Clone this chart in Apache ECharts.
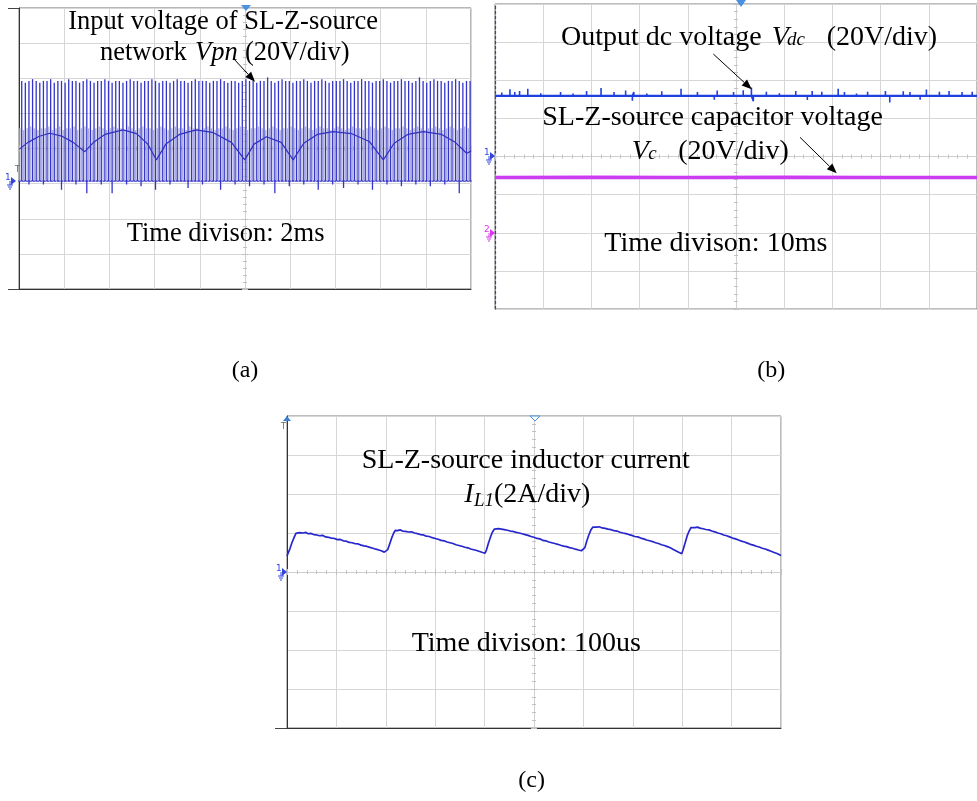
<!DOCTYPE html>
<html><head><meta charset="utf-8">
<script src="https://cdn.jsdelivr.net/npm/echarts@6/dist/echarts.min.js"></script>
<style>html,body{margin:0;padding:0;background:#fff}#c{width:977px;height:801px}</style>
</head><body><div id="c"></div>
<script>
// ================= DATA =================
// (a) Input voltage Vpn, 20 V/div, 2 ms/div (10 div = 20 ms)
const vpnTall = [57,56,57,58,57,56,57,57,58,56,
57,57,56,58,57,57,56,57,58,57,
56,57,57,58,57,56,57,57,56,57,
58,57,57,56,57,57,58,57,56,57,
57,56,57,58,57,57,56,57,58,57,
57,57,56,57,57,58,57,56,57,57,
56,57,58,57,57,56,57,57,59,57,
56,57,58,57,57,56,57,57,58,57,
56,57,57,58,57,56,57,57,57,58,
57,56,57,57,58,57,57,56,57,57,
58,57,56,57,57,58,57,57,56,57,
59,57,56,57,58,57,57,56,57,57,
58,57,56,57,57];
const vpnMid = [30,29,30,31,30,29,30,30,31,29,
30,31,29,30,30,31,29,30,31,30,
29,30,31,30,29,30,31,30,30,29,
31,30,29,30,31,30,30,29,30,31,
30,29,30,31,30,30,29,31,30,30,
29,30,31,30,29,30,30,31,30,29,
30,31,30,29,30,30,31,30,29,30,
31,30,29,30,30,31,30,29,30,31,
30,29,30,31,30,30,29,30,31,30,
29,30,31,30,30,29,30,31,30,29,
30,31,30,29,30,30,31,30,29,30,
31,30,29,30,30,31,30,29,30,31,
30,29,30,31,30];
const vpnDips = [[2,-2],[6,-2],[11,-5],[15,-2],[18,-7],[22,-2],[25,-7],[29,-2],[33,-3],[37,-5],[41,-2],[46,-4],[50,-2],[55,-5],[59,-2],[63,-3],[67,-2],[70,-7],[74,-3],[78,-2],[82,-5],[86,-2],[89,-4],[93,-2],[97,-5],[101,-2],[105,-3],[109,-2],[113,-3],[117,-2],[121,-7]];
const vpnArc = [[0,18],[0.4,22],[0.9,25.5],[1.36,27.2],[1.9,25.5],[2.4,22],[2.91,16.7],
[3.3,22],[3.8,26.5],[4.6,29.1],[5.2,27],[5.7,21],[6.08,12],
[6.5,21],[7.1,26.5],[7.85,29.1],[8.6,27.5],[9.4,22],[9.99,12],
[10.4,21],[10.95,25.2],[11.6,22],[12.13,12],
[12.6,21.5],[13.2,26.5],[13.9,28.1],[14.7,27],[15.5,22.5],[16.12,12],
[16.6,21.5],[17.2,26.5],[17.89,28.1],[18.7,26.5],[19.3,22],[19.81,15.8],[20,17]];

// (b) Output dc voltage Vdc and capacitor voltage Vc, 20 V/div, 10 ms/div
const vdcLevel = 31.8;
const vdcSpikes = [[1.4,33.6],[3.1,35.3],[4.1,33.8],[5.1,34.3],[6.8,35.6],[9.5,33.2],[13.6,33.8],[16.2,33.0],[19.0,34.3],[22.0,36.0],[24.7,33.8],[27.1,34.6],[28.5,29.2],[28.8,33.8],[31.5,33.0],[34.6,34.2],[38.6,35.6],[42.0,33.8],[45.5,29.8],[46.1,34.6],[49.5,33.8],[51.5,34.8],[53.2,36.2],[53.6,29.0],[56.3,34.0],[59.0,33.2],[62.4,34.4],[64.8,29.6],[65.8,34.4],[67.8,34.0],[71.2,35.6],[72.5,33.8],[75.0,33.0],[77.3,34.0],[81.0,34.4],[81.9,28.3],[84.7,34.2],[86.1,33.8],[88.2,29.8],[89.5,35.2],[92.2,34.0],[94.2,34.4],[96.9,33.8],[99.0,34.0]];
const vcTrace = [[0,29.0],[20,29.1],[40,29.0],[60,29.1],[80,29.0],[100,29.0]];

// (c) Inductor current IL1, 2 A/div, 100 us/div
const il1 = [[0,0.82],[2,0.9],[6,1.2],[10,1.5],[14,1.75],[18,1.98],[21,2.07],[25,2.02],[29,2.06],[33,2.0],[38,2.03],[43,1.96],[48,1.98],[54,1.92],[60,1.9],[66,1.86],[72,1.88],[78,1.8],[84,1.78],[90,1.74],[96,1.72],[102,1.66],[108,1.67],[114,1.6],[120,1.58],[126,1.52],[132,1.5],[138,1.45],[144,1.44],[150,1.38],[156,1.34],[162,1.31],[168,1.26],[174,1.22],[180,1.17],[186,1.13],[192,1.08],[197,1.02],[201,0.98],
[204,1.15],[208,1.45],[212,1.75],[216,2.0],[219,2.13],[224,2.12],[229,2.16],[234,2.1],[240,2.08],[246,2.05],[252,2.06],[258,2.0],[264,1.97],[270,1.92],[276,1.9],[282,1.84],[288,1.82],[294,1.76],[300,1.72],[306,1.68],[312,1.62],[318,1.6],[324,1.54],[330,1.5],[336,1.46],[342,1.4],[348,1.36],[354,1.32],[360,1.27],[366,1.24],[372,1.18],[378,1.14],[384,1.1],[390,1.05],[396,1.0],[401,0.96],
[404,1.15],[408,1.5],[412,1.8],[416,2.05],[420,2.2],[423,2.27],[428,2.22],[434,2.2],[440,2.17],[446,2.14],[452,2.1],[458,2.08],[464,2.03],[470,2.0],[476,1.96],[482,1.92],[488,1.88],[494,1.82],[500,1.78],[506,1.72],[512,1.7],[518,1.62],[524,1.6],[530,1.54],[536,1.5],[542,1.46],[548,1.42],[554,1.37],[560,1.33],[566,1.3],[572,1.25],[578,1.22],[584,1.17],[590,1.13],[596,1.09],[600,1.06],
[603,1.25],[607,1.6],[611,1.9],[615,2.15],[619,2.3],[622,2.35],[627,2.3],[632,2.32],[638,2.26],[644,2.24],[650,2.2],[656,2.17],[662,2.12],[668,2.1],[674,2.04],[680,2.0],[686,1.97],[692,1.92],[698,1.88],[704,1.82],[710,1.8],[716,1.74],[722,1.7],[728,1.64],[734,1.6],[740,1.56],[746,1.5],[752,1.46],[758,1.4],[764,1.36],[770,1.3],[776,1.24],[782,1.16],[788,1.08],[794,1.0],[799,0.94],
[802,1.15],[806,1.5],[810,1.85],[814,2.1],[818,2.28],[821,2.32],[826,2.28],[831,2.3],[836,2.25],[842,2.22],[848,2.18],[854,2.16],[860,2.1],[866,2.06],[872,2.0],[878,1.96],[884,1.9],[890,1.86],[896,1.8],[902,1.74],[908,1.7],[914,1.64],[920,1.58],[926,1.54],[932,1.48],[938,1.42],[944,1.38],[950,1.32],[956,1.28],[962,1.22],[968,1.18],[974,1.12],[980,1.06],[986,1.0],[992,0.95],[996,0.9],[1000,0.84]];

// ================= CHART =================
const SERIF = '"Liberation Serif","Times New Roman",serif';
const chart = echarts.init(document.getElementById('c'), null, {renderer:'canvas'});
const xAxes = [], yAxes = [], series = [];
const noAxis = {axisLabel:{show:false}, axisTick:{show:false}, splitLine:{show:false}};

function divAxes(gi) {
  const xi = xAxes.length, yi = yAxes.length;
  const tickStyle = {color:'#c2c2c2', width:1};
  const grid = {color:'#d6d6d6', width:1};
  const base = {gridIndex:gi, type:'value', axisLabel:{show:false}, silent:true};
  xAxes.push(Object.assign({}, base, {min:-5, max:5, interval:1, position:'bottom',
    splitLine:{show:true, lineStyle:grid},
    axisLine:{show:true, onZero:true, onZeroAxisIndex:yi, lineStyle:{color:'#cfcfcf'}},
    axisTick:{show:true, length:3, lineStyle:tickStyle},
    minorTick:{show:true, splitNumber:5, length:2, lineStyle:tickStyle}}));
  xAxes.push(Object.assign({}, base, {min:-5, max:5, interval:1, position:'top',
    splitLine:{show:false},
    axisLine:{show:false, onZero:true, onZeroAxisIndex:yi},
    axisTick:{show:true, length:3, lineStyle:tickStyle},
    minorTick:{show:true, splitNumber:5, length:2, lineStyle:tickStyle}}));
  yAxes.push(Object.assign({}, base, {min:-4, max:4, interval:1, position:'left',
    splitLine:{show:true, lineStyle:grid},
    axisLine:{show:true, onZero:true, onZeroAxisIndex:xi, lineStyle:{color:'#cfcfcf'}},
    axisTick:{show:true, length:3, lineStyle:tickStyle},
    minorTick:{show:true, splitNumber:5, length:2, lineStyle:tickStyle}}));
  yAxes.push(Object.assign({}, base, {min:-4, max:4, interval:1, position:'right',
    splitLine:{show:false},
    axisLine:{show:false, onZero:true, onZeroAxisIndex:xi},
    axisTick:{show:true, length:3, lineStyle:tickStyle},
    minorTick:{show:true, splitNumber:5, length:2, lineStyle:tickStyle}}));
}

// ---- panel (a) ----
divAxes(0);
const yA = yAxes.length;
yAxes.push(Object.assign({gridIndex:0, type:'value', min:-61.5, max:98.5, position:'left',
  axisLine:{show:true, onZero:false, lineStyle:{color:'#333', width:1}}}, noAxis));
const xCatA = xAxes.length;
xAxes.push(Object.assign({gridIndex:0, type:'category', data: vpnTall.map((_, i) => String(i + 1)), boundaryGap:true, position:'bottom',
  axisLine:{show:true, onZero:true, onZeroAxisIndex:yA, lineStyle:{color:'#3535c8', width:1.5, type:[2,1.5]}}}, noAxis));
const xValA = xAxes.length;
xAxes.push(Object.assign({gridIndex:0, type:'value', min:0, max:20, position:'bottom',
  axisLine:{show:true, onZero:false, lineStyle:{color:'#333', width:1}}}, noAxis));

series.push({type:'bar', xAxisIndex:xCatA, yAxisIndex:yA, data:vpnMid, barWidth:1.3, barGap:'40%',
  itemStyle:{color:'#aeb0d8'}, silent:true, z:2});
series.push({type:'bar', xAxisIndex:xCatA, yAxisIndex:yA, data:vpnTall, stack:'p', barWidth:1.3, barGap:'40%',
  itemStyle:{color:'#3434cc'}, silent:true, z:3});
series.push({type:'bar', xAxisIndex:xCatA, yAxisIndex:yA, data:vpnDips, stack:'p', barWidth:1.3, barGap:'40%',
  itemStyle:{color:'#3434cc'}, silent:true, z:3});
series.push({type:'line', xAxisIndex:xValA, yAxisIndex:yA, data:vpnArc, symbol:'none',
  lineStyle:{color:'#3030c0', width:1.2}, silent:true, z:4});

// ---- panel (b) ----
divAxes(1);
const yB1 = yAxes.length;
yAxes.push(Object.assign({gridIndex:1, type:'value', min:-80, max:80, position:'left',
  axisLine:{show:true, onZero:false, lineStyle:{color:'#2d4a8a', width:1.2, type:[3,2]}}}, noAxis));
const yB2 = yAxes.length;
yAxes.push(Object.assign({gridIndex:1, type:'value', min:-40, max:120, position:'left',
  axisLine:{show:false, onZero:false}}, noAxis));
const xB = xAxes.length;
xAxes.push(Object.assign({gridIndex:1, type:'value', min:0, max:100, position:'bottom',
  axisLine:{show:false, onZero:false}}, noAxis));
function spikeTrace(level, spikes, t0, t1) {
  const d = [[t0, level]];
  spikes.forEach(([t, v]) => { d.push([t, level], [t, v], [t, level]); });
  d.push([t1, level]);
  return d;
}
series.push({type:'line', xAxisIndex:xB, yAxisIndex:yB1, data:spikeTrace(vdcLevel, vdcSpikes, 0, 100), symbol:'none',
  lineStyle:{color:'#1f3fe0', width:1.6}, silent:true, z:3});
series.push({type:'line', xAxisIndex:xB, yAxisIndex:yB1, data:[[0, vdcLevel],[100, vdcLevel]], symbol:'none',
  lineStyle:{color:'#1f3fe0', width:2.2}, silent:true, z:3});
series.push({type:'line', xAxisIndex:xB, yAxisIndex:yB2, data:vcTrace, symbol:'none',
  lineStyle:{color:'#cc3cf0', width:3.5}, silent:true, z:3});

// ---- panel (c) ----
divAxes(2);
const yC = yAxes.length;
yAxes.push(Object.assign({gridIndex:2, type:'value', min:-8, max:8, position:'left',
  axisLine:{show:true, onZero:false, lineStyle:{color:'#333', width:1}}}, noAxis));
const xC = xAxes.length;
xAxes.push(Object.assign({gridIndex:2, type:'value', min:0, max:1000, position:'bottom',
  axisLine:{show:true, onZero:false, lineStyle:{color:'#333', width:1}}}, noAxis));
series.push({type:'line', xAxisIndex:xC, yAxisIndex:yC, data:il1, symbol:'none',
  lineStyle:{color:'#2626cc', width:1.7}, silent:true, z:3});

// ---- annotations ----
function txt(x, base, s, size, italic, color) {
  return {type:'text', x:x, y:base - 0.3375 * size, z:100, silent:true,
    style:{text:s, font:(italic ? 'italic ' : '') + size + 'px ' + SERIF, fill:color || '#000',
      textAlign:'left', textVerticalAlign:'middle', align:'left', verticalAlign:'middle'}};
}
function arrow(x1, y1, x2, y2) {
  const L = 10, W = 4;
  const dx = x2 - x1, dy = y2 - y1, len = Math.hypot(dx, dy), ux = dx / len, uy = dy / len;
  const bx = x2 - ux * L, by = y2 - uy * L;
  return [
    {type:'line', z:100, silent:true, shape:{x1:x1, y1:y1, x2:bx, y2:by}, style:{stroke:'#000', lineWidth:1}},
    {type:'polygon', z:100, silent:true, shape:{points:[[x2, y2],[bx - uy * W, by + ux * W],[bx + uy * W, by - ux * W]]}, style:{fill:'#000'}}
  ];
}
function ln(x1, y1, x2, y2, c, w) {
  return {type:'line', z:90, silent:true, shape:{x1:x1, y1:y1, x2:x2, y2:y2}, style:{stroke:c, lineWidth:w || 1}};
}
function gnd(x, y, label, c) {
  return [
    {type:'text', x:x, y:y - 3, z:95, silent:true, style:{text:label, font:'9px "DejaVu Sans"', fill:c, textAlign:'left', textVerticalAlign:'middle', align:'left', verticalAlign:'middle'}},
    {type:'polygon', z:95, silent:true, shape:{points:[[x + 6, y - 4],[x + 11, y],[x + 6, y + 4]]}, style:{fill:c}},
    ln(x + 5, y, x + 5, y + 4, c), ln(x + 2, y + 4, x + 8, y + 4, c), ln(x + 3, y + 6, x + 7, y + 6, c), ln(x + 4, y + 8, x + 6, y + 8, c)
  ];
}
const graphics = [].concat(
  // (a)
  txt(68.3, 30.7, 'Input voltage of SL-Z-source', 26.5),
  txt(100, 61.7, 'network', 26.5),
  txt(195, 61.7, 'Vpn', 26.5, true),
  txt(245, 61.7, '(20V/div)', 26.5),
  txt(126.7, 243.3, 'Time divison: 2ms', 26.5),
  arrow(233.3, 58.3, 255, 81.7),
  // (b)
  txt(561, 46.7, 'Output dc voltage', 28),
  txt(771.7, 46.7, 'V', 28, true),
  txt(787, 46.7, 'dc', 19, true),
  txt(826.7, 46.7, '(20V/div)', 28),
  arrow(713.3, 54, 751.7, 89.3),
  txt(542.3, 127, 'SL-Z-source capacitor voltage', 28),
  txt(631.7, 160.7, 'V', 28, true),
  txt(648.3, 160.7, 'c', 19, true),
  txt(678.3, 160.7, '(20V/div)', 28),
  arrow(800, 137.3, 836.7, 173.3),
  txt(604.3, 253.3, 'Time divison: 10ms', 28),
  // (c)
  txt(361.7, 470, 'SL-Z-source inductor current', 28),
  txt(464.3, 504, 'I', 28, true),
  txt(474, 507, 'L1', 19, true),
  txt(494, 504, '(2A/div)', 28),
  txt(411.7, 653.3, 'Time divison: 100us', 28),
  // captions
  txt(231.7, 379, '(a)', 24),
  txt(757.3, 378.5, '(b)', 24),
  txt(518.3, 789, '(c)', 24),
  // frame extensions
  ln(8, 8.5, 19, 8.5, '#444'), ln(8, 289.5, 19, 289.5, '#444'),
  ln(275, 728.5, 287, 728.5, '#444'),
  // ground markers
  gnd(5, 181, '1', '#3344dd'),
  gnd(484, 156, '1', '#3344dd'),
  gnd(484, 233, '2', '#dd33ee'),
  gnd(276, 572, '1', '#3344dd'),
  // trigger markers
  [{type:'text', x:15, y:170, z:95, silent:true, style:{text:'T', font:'8px "DejaVu Sans"', fill:'#666', textAlign:'left', textVerticalAlign:'middle', align:'left', verticalAlign:'middle'}},
   {type:'text', x:281, y:427, z:95, silent:true, style:{text:'T', font:'8px "DejaVu Sans"', fill:'#666', textAlign:'left', textVerticalAlign:'middle', align:'left', verticalAlign:'middle'}},
   {type:'polygon', z:95, silent:true, shape:{points:[[283, 421],[287, 416],[291, 421]]}, style:{fill:'#3a7fd8'}},
   {type:'polygon', z:95, silent:true, shape:{points:[[241, 5],[251, 5],[246, 11]]}, style:{fill:'#4a90e0'}},
   {type:'polygon', z:95, silent:true, shape:{points:[[736, 0],[746, 0],[741, 7]]}, style:{fill:'#4a90e0'}},
   {type:'polygon', z:95, silent:true, shape:{points:[[530, 416],[540, 416],[535, 421]]}, style:{fill:'#fff', stroke:'#4a90e0', lineWidth:1}}]
);

chart.setOption({
  animation:false,
  backgroundColor:'#fff',
  grid:[
    {left:19, top:8, width:452, height:281, show:true, borderColor:'#6e6e6e', borderWidth:1, backgroundColor:'#fff'},
    {left:495, top:4, width:492, height:305, show:true, borderColor:'#7a7a7a', borderWidth:1, backgroundColor:'#fff'},
    {left:287, top:416, width:494, height:312, show:true, borderColor:'#7a7a7a', borderWidth:1, backgroundColor:'#fff'}
  ],
  xAxis:xAxes,
  yAxis:yAxes,
  series:series,
  graphic:graphics
});
</script>
</body></html>
